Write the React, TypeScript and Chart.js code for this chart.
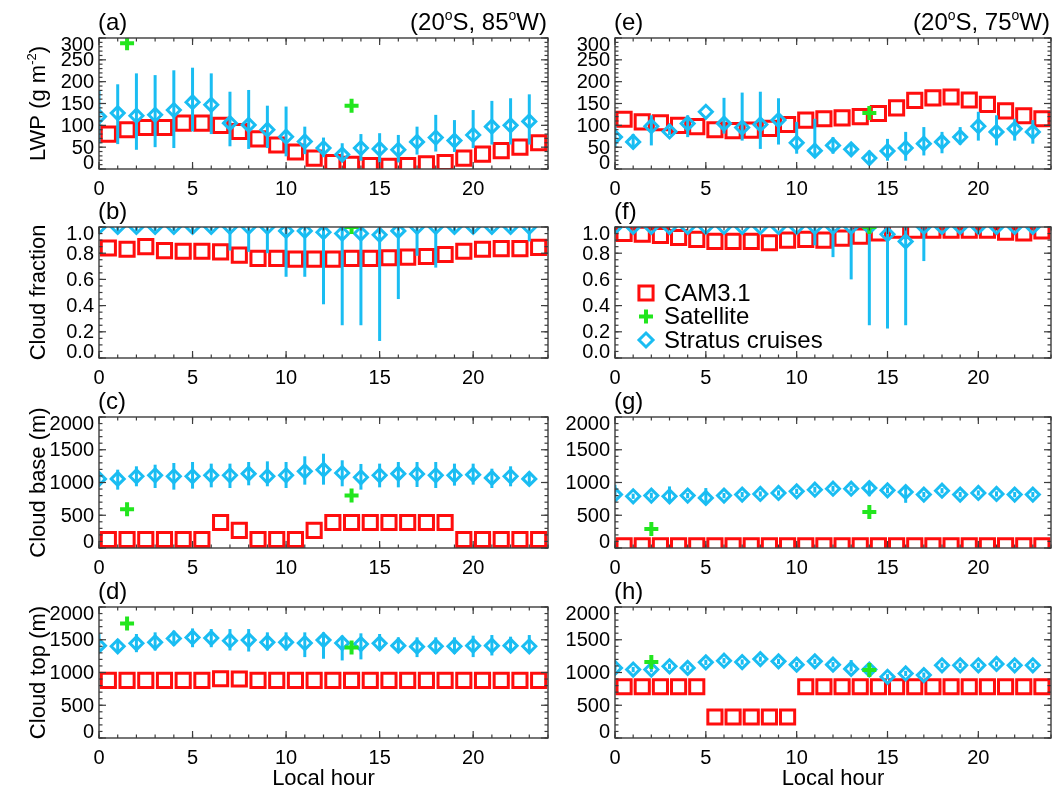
import React, { useEffect, useRef } from 'react';
import { Chart, registerables } from 'chart.js';

Chart.register(...registerables);

// ---------------- page / style constants ----------------
const PAGE_W = 1064;
const PAGE_H = 790;
const FONT = '"Liberation Sans", Arial, Helvetica, sans-serif';
const RED = '#FF0D0D';
const GREEN = '#22E61E';
const BLUE = '#1ABDF2';
const FRAME = '#3c3c3c';

// ---------------- categories & ticks ----------------
const HOURS = [0, 1, 2, 3, 4, 5, 6, 7, 8, 9, 10, 11, 12, 13, 14, 15, 16, 17, 18, 19, 20, 21, 22, 23];
const HALF_HOURS = [0.5, 1.5, 2.5, 3.5, 4.5, 5.5, 6.5, 7.5, 8.5, 9.5, 10.5, 11.5, 12.5, 13.5, 14.5, 15.5, 16.5, 17.5, 18.5, 19.5, 20.5, 21.5, 22.5, 23.5];
const HOUR_TICKS = [0, 5, 10, 15, 20];
const HOUR_TICK_LABELS = ['0', '5', '10', '15', '20'];
const LWP_TICKS = [0, 50, 100, 150, 200, 250, 300];
const LWP_TICK_LABELS = ['0', '50', '100', '150', '200', '250', '300'];
const FRAC_TICKS = [0, 0.2, 0.4, 0.6, 0.8, 1.0];
const FRAC_TICK_LABELS = ['0.0', '0.2', '0.4', '0.6', '0.8', '1.0'];
const HGT_TICKS = [0, 500, 1000, 1500, 2000];
const HGT_TICK_LABELS = ['0', '500', '1000', '1500', '2000'];

// ---------------- (a) LWP, 20S 85W ----------------
const A_CAM = [80, 90, 95, 95, 105, 105, 100, 86, 69, 55, 39, 25, 15, 11, 8, 6, 8, 12, 15, 25, 34, 42, 50, 60];
const A_STR = [120, 128, 122, 124, 135, 153, 147, 105, 101, 90, 74, 63, 48, 33, 48, 46, 44, 62, 72, 65, 78, 97, 100, 109];
const A_STR_LO = [59, 57, 44, 50, 48, 86, 80, 52, 46, 48, 29, 34, 27, 18, 19, 15, 15, 33, 40, 39, 48, 56, 56, 56];
const A_STR_HI = [179, 194, 219, 215, 226, 232, 219, 177, 181, 145, 143, 97, 72, 59, 80, 82, 78, 97, 124, 112, 135, 156, 162, 171];
const A_SAT_X = [1.5, 13.5];
const A_SAT = [288, 145];

// ---------------- (b) cloud fraction, 20S 85W ----------------
const B_CAM = [0.84, 0.83, 0.85, 0.82, 0.815, 0.815, 0.81, 0.785, 0.76, 0.76, 0.755, 0.755, 0.755, 0.76, 0.76, 0.765, 0.77, 0.775, 0.79, 0.815, 0.83, 0.835, 0.835, 0.845];
const B_STR = [1, 1, 1, 1, 1, 1, 1, 1, 1, 1, 0.97, 0.97, 0.96, 0.95, 0.95, 0.94, 0.97, 1, 1, 1, 1, 1, 1, 1];
const B_STR_LO = [1, 0.95, 0.97, 0.97, 0.97, 0.97, 0.97, 0.82, 0.81, 0.8, 0.62, 0.62, 0.41, 0.25, 0.25, 0.13, 0.45, 0.78, 0.69, 0.95, 0.96, 0.97, 0.97, 0.89];
const B_STR_HI = [1, 1, 1, 1, 1, 1, 1, 1, 1, 1, 1, 1, 1, 1, 1, 1, 1, 1, 1, 1, 1, 1, 1, 1];
const B_SAT_X = [13.5];
const B_SAT = [1.0];

// ---------------- (c) cloud base, 20S 85W ----------------
const C_CAM = [130, 130, 130, 130, 130, 130, 390, 270, 130, 130, 130, 270, 390, 390, 390, 390, 390, 390, 390, 130, 130, 130, 130, 130];
const C_STR = [1055, 1055, 1095, 1110, 1095, 1095, 1110, 1110, 1135, 1095, 1110, 1170, 1195, 1145, 1080, 1110, 1135, 1130, 1110, 1110, 1120, 1070, 1095, 1055];
const C_STR_LO = [942, 891, 942, 916, 891, 906, 926, 916, 957, 942, 916, 967, 967, 942, 891, 926, 926, 931, 916, 952, 967, 916, 942, 952];
const C_STR_HI = [1145, 1196, 1247, 1272, 1298, 1313, 1288, 1288, 1313, 1323, 1313, 1400, 1440, 1339, 1283, 1288, 1313, 1313, 1313, 1288, 1288, 1211, 1247, 1160];
const C_SAT_X = [1.5, 13.5];
const C_SAT = [590, 800];

// ---------------- (d) cloud top, 20S 85W ----------------
const D_CAM = [880, 880, 880, 880, 880, 880, 905, 900, 880, 880, 880, 880, 880, 880, 880, 880, 880, 880, 880, 880, 880, 880, 880, 880];
const D_STR = [1410, 1400, 1445, 1460, 1520, 1535, 1525, 1485, 1495, 1460, 1460, 1450, 1495, 1450, 1435, 1445, 1410, 1395, 1400, 1400, 1410, 1410, 1410, 1400];
const D_STR_LO = [1310, 1310, 1310, 1336, 1411, 1386, 1386, 1336, 1320, 1336, 1336, 1235, 1210, 1184, 1200, 1336, 1310, 1235, 1285, 1285, 1235, 1260, 1310, 1310];
const D_STR_HI = [1588, 1512, 1588, 1613, 1638, 1673, 1663, 1663, 1663, 1613, 1613, 1613, 1613, 1562, 1598, 1588, 1537, 1537, 1537, 1537, 1562, 1572, 1547, 1572];
const D_SAT_X = [1.5, 13.5];
const D_SAT = [1750, 1380];

// ---------------- (e) LWP, 20S 75W ----------------
const E_CAM = [114, 108, 106, 100, 97, 90, 88, 89, 93, 102, 112, 115, 117, 120, 127, 140, 157, 163, 165, 158, 148, 133, 122, 115];
const E_STR = [73, 62, 98, 86, 104, 131, 104, 95, 102, 112, 60, 42, 54, 45, 25, 41, 48, 58, 62, 73, 98, 85, 92, 85];
const E_STR_LO = [50, 50, 54, 78, 73, 131, 81, 65, 46, 56, 35, 28, 35, 31, 12, 19, 19, 31, 36, 56, 65, 54, 65, 58];
const E_STR_HI = [98, 80, 123, 95, 123, 131, 163, 175, 177, 162, 108, 115, 73, 58, 42, 69, 85, 96, 85, 96, 131, 123, 115, 112];
const E_SAT_X = [14];
const E_SAT = [128];

// ---------------- (f) cloud fraction, 20S 75W ----------------
const F_CAM = [0.95, 0.945, 0.935, 0.92, 0.905, 0.89, 0.89, 0.89, 0.88, 0.9, 0.905, 0.9, 0.915, 0.93, 0.955, 0.975, 0.975, 0.975, 0.975, 0.975, 0.975, 0.96, 0.955, 0.97];
const F_STR = [1, 1, 1, 1, 1, 1, 1, 1, 1, 1, 1, 1, 1, 1, 1, 0.945, 0.89, 1, 1, 1, 1, 1, 1, 1];
const F_STR_LO = [1, 1, 1, 1, 1, 1, 1, 1, 1, 1, 1, 0.86, 0.77, 0.6, 0.25, 0.225, 0.25, 0.74, 1, 1, 1, 1, 1, 1];
const F_STR_HI = [1, 1, 1, 1, 1, 1, 1, 1, 1, 1, 1, 1, 1, 1, 1, 1, 1, 1, 1, 1, 1, 1, 1, 1];
const F_SAT_X = [14];
const F_SAT = [1.0];

// ---------------- (g) cloud base, 20S 75W ----------------
const G_CAM = [35, 35, 35, 35, 35, 35, 35, 35, 35, 35, 35, 35, 35, 35, 35, 35, 35, 35, 35, 35, 35, 35, 35, 35];
const G_STR = [815, 790, 800, 790, 800, 765, 800, 815, 825, 840, 865, 890, 905, 905, 915, 880, 855, 815, 875, 815, 840, 825, 815, 815];
const G_STR_LO = [765, 750, 755, 710, 760, 690, 760, 775, 785, 800, 825, 845, 860, 860, 790, 835, 690, 775, 835, 775, 800, 785, 775, 775];
const G_STR_HI = [965, 830, 845, 940, 840, 915, 840, 855, 865, 880, 905, 935, 950, 950, 1015, 925, 940, 855, 915, 855, 880, 865, 855, 855];
const G_SAT_X = [2, 14];
const G_SAT = [290, 550];

// ---------------- (h) cloud top, 20S 75W ----------------
const H_CAM = [783, 783, 783, 783, 783, 320, 320, 320, 320, 320, 783, 783, 783, 783, 783, 783, 783, 783, 783, 783, 783, 783, 783, 783];
const H_STR = [1070, 1045, 1045, 1095, 1070, 1155, 1180, 1160, 1205, 1170, 1120, 1170, 1120, 1055, 1045, 935, 985, 960, 1110, 1110, 1110, 1130, 1110, 1110];
const H_STR_LO = [1030, 1005, 1005, 1055, 1030, 1115, 1140, 1120, 1165, 1130, 1080, 1130, 1080, 1015, 1005, 895, 945, 920, 1070, 1070, 1070, 1090, 1070, 1070];
const H_STR_HI = [1110, 1085, 1085, 1135, 1110, 1195, 1220, 1200, 1245, 1210, 1160, 1210, 1160, 1190, 1085, 975, 1025, 1000, 1150, 1150, 1150, 1170, 1150, 1150];
const H_SAT_X = [2, 14];
const H_SAT = [1160, 1040];

// ---------------- layout ----------------
const COLS = [
  { l: 99, r: 548 },
  { l: 615, r: 1062 },
];
const ROW_TOPS = [38, 227, 417, 607];
const ROW_H = 131;

type Rich = { t: string; sup?: boolean };

type PanelSpec = {
  id: string;
  letter: string;
  col: number;
  row: number;
  yMin: number;
  yMax: number;
  yTicks: number[];
  yTickLabels: string[];
  yMinorStep: number;
  cam: number[];
  str: number[];
  strLo: number[];
  strHi: number[];
  satX: number[];
  sat: number[];
  yTitle?: Rich[];
  location?: Rich[];
  xTitle?: string;
  legend?: boolean;
};

const LOC_85: Rich[] = [{ t: '(20' }, { t: 'o', sup: true }, { t: 'S, 85' }, { t: 'o', sup: true }, { t: 'W)' }];
const LOC_75: Rich[] = [{ t: '(20' }, { t: 'o', sup: true }, { t: 'S, 75' }, { t: 'o', sup: true }, { t: 'W)' }];

const LWP_AX = { yMin: 0, yMax: 300, yTicks: LWP_TICKS, yTickLabels: LWP_TICK_LABELS, yMinorStep: 10 };
const FRAC_AX = { yMin: 0, yMax: 1, yTicks: FRAC_TICKS, yTickLabels: FRAC_TICK_LABELS, yMinorStep: 0.05 };
const HGT_AX = { yMin: 0, yMax: 2000, yTicks: HGT_TICKS, yTickLabels: HGT_TICK_LABELS, yMinorStep: 100 };

const PANELS: PanelSpec[] = [
  { id: 'a', letter: '(a)', col: 0, row: 0, ...LWP_AX, cam: A_CAM, str: A_STR, strLo: A_STR_LO, strHi: A_STR_HI, satX: A_SAT_X, sat: A_SAT,
    yTitle: [{ t: 'LWP (g m' }, { t: '-2', sup: true }, { t: ')' }], location: LOC_85 },
  { id: 'b', letter: '(b)', col: 0, row: 1, ...FRAC_AX, cam: B_CAM, str: B_STR, strLo: B_STR_LO, strHi: B_STR_HI, satX: B_SAT_X, sat: B_SAT,
    yTitle: [{ t: 'Cloud fraction' }] },
  { id: 'c', letter: '(c)', col: 0, row: 2, ...HGT_AX, cam: C_CAM, str: C_STR, strLo: C_STR_LO, strHi: C_STR_HI, satX: C_SAT_X, sat: C_SAT,
    yTitle: [{ t: 'Cloud base (m)' }] },
  { id: 'd', letter: '(d)', col: 0, row: 3, ...HGT_AX, cam: D_CAM, str: D_STR, strLo: D_STR_LO, strHi: D_STR_HI, satX: D_SAT_X, sat: D_SAT,
    yTitle: [{ t: 'Cloud top (m)' }], xTitle: 'Local hour' },
  { id: 'e', letter: '(e)', col: 1, row: 0, ...LWP_AX, cam: E_CAM, str: E_STR, strLo: E_STR_LO, strHi: E_STR_HI, satX: E_SAT_X, sat: E_SAT,
    location: LOC_75 },
  { id: 'f', letter: '(f)', col: 1, row: 1, ...FRAC_AX, cam: F_CAM, str: F_STR, strLo: F_STR_LO, strHi: F_STR_HI, satX: F_SAT_X, sat: F_SAT,
    legend: true },
  { id: 'g', letter: '(g)', col: 1, row: 2, ...HGT_AX, cam: G_CAM, str: G_STR, strLo: G_STR_LO, strHi: G_STR_HI, satX: G_SAT_X, sat: G_SAT },
  { id: 'h', letter: '(h)', col: 1, row: 3, ...HGT_AX, cam: H_CAM, str: H_STR, strLo: H_STR_LO, strHi: H_STR_HI, satX: H_SAT_X, sat: H_SAT,
    xTitle: 'Local hour' },
];

// ---------------- drawing helpers ----------------
const TICK_FONT = 20;
const TITLE_FONT = 24;
const AXIS_TITLE_FONT = 22;
const LEGEND_FONT = 24;

function richWidth(ctx: CanvasRenderingContext2D, parts: Rich[], size: number) {
  let w = 0;
  for (const p of parts) {
    ctx.font = `${p.sup ? Math.round(size * 0.6) : size}px ${FONT}`;
    w += ctx.measureText(p.t).width;
  }
  return w;
}

function drawRich(ctx: CanvasRenderingContext2D, parts: Rich[], x: number, y: number, size: number, align: 'left' | 'center' | 'right') {
  const w = richWidth(ctx, parts, size);
  let cx = align === 'left' ? x : align === 'center' ? x - w / 2 : x - w;
  ctx.textAlign = 'left';
  ctx.textBaseline = 'alphabetic';
  for (const p of parts) {
    const s = p.sup ? Math.round(size * 0.6) : size;
    ctx.font = `${s}px ${FONT}`;
    ctx.fillText(p.t, cx, p.sup ? y - size * 0.42 : y);
    cx += ctx.measureText(p.t).width;
  }
}

function drawMarker(ctx: CanvasRenderingContext2D, kind: string, x: number, y: number) {
  ctx.save();
  ctx.beginPath();
  if (kind === 'rect') {
    const s = 10 * Math.SQRT1_2;
    ctx.strokeStyle = RED;
    ctx.lineWidth = 3;
    ctx.rect(x - s, y - s, 2 * s, 2 * s);
  } else if (kind === 'cross') {
    ctx.strokeStyle = GREEN;
    ctx.lineWidth = 4;
    ctx.moveTo(x - 7, y); ctx.lineTo(x + 7, y);
    ctx.moveTo(x, y - 7); ctx.lineTo(x, y + 7);
  } else {
    const r = 7;
    ctx.strokeStyle = BLUE;
    ctx.lineWidth = 3;
    ctx.moveTo(x, y - r); ctx.lineTo(x + r, y); ctx.lineTo(x, y + r); ctx.lineTo(x - r, y); ctx.closePath();
  }
  ctx.stroke();
  ctx.restore();
}

function minorValues(min: number, max: number, step: number) {
  const out: number[] = [];
  const n = Math.round((max - min) / step);
  for (let i = 0; i <= n; i++) out.push(min + i * step);
  return out;
}

const errorBarPlugin = {
  id: 'errBars',
  beforeDatasetDraw(chart: any, args: any) {
    const ds: any = chart.data.datasets[args.index];
    if (!ds.errLo) return;
    const { ctx, chartArea: a } = chart;
    const xs = chart.scales.x;
    const ys = chart.scales.y;
    ctx.save();
    ctx.beginPath();
    ctx.rect(a.left, a.top, a.right - a.left, a.bottom - a.top);
    ctx.clip();
    ctx.strokeStyle = BLUE;
    ctx.lineWidth = 3;
    ds.data.forEach((pt: any, i: number) => {
      const px = xs.getPixelForValue(pt.x);
      ctx.beginPath();
      ctx.moveTo(px, ys.getPixelForValue(ds.errLo[i]));
      ctx.lineTo(px, ys.getPixelForValue(ds.errHi[i]));
      ctx.stroke();
    });
    ctx.restore();
  },
};

function makeFramePlugin(spec: PanelSpec) {
  return {
    id: 'idlFrame',
    afterDraw(chart: any) {
      const { ctx, chartArea: a } = chart;
      const xs = chart.scales.x;
      const ys = chart.scales.y;
      ctx.save();
      // box
      ctx.strokeStyle = FRAME;
      ctx.lineWidth = 1.4;
      ctx.strokeRect(a.left, a.top, a.right - a.left, a.bottom - a.top);
      const line = (x1: number, y1: number, x2: number, y2: number) => {
        ctx.beginPath(); ctx.moveTo(x1, y1); ctx.lineTo(x2, y2); ctx.stroke();
      };
      ctx.lineWidth = 1.2;
      // x ticks (bottom and top, inward)
      for (const v of minorValues(0, 24, 1)) {
        const px = xs.getPixelForValue(v);
        line(px, a.bottom, px, a.bottom - 3.5);
        line(px, a.top, px, a.top + 3.5);
      }
      for (const v of HOUR_TICKS) {
        const px = xs.getPixelForValue(v);
        line(px, a.bottom, px, a.bottom - 7);
        line(px, a.top, px, a.top + 7);
      }
      // y ticks (left and right, inward)
      for (const v of minorValues(spec.yMin, spec.yMax, spec.yMinorStep)) {
        const py = ys.getPixelForValue(v);
        line(a.left, py, a.left + 3.5, py);
        line(a.right, py, a.right - 3.5, py);
      }
      for (const v of spec.yTicks) {
        const py = ys.getPixelForValue(v);
        line(a.left, py, a.left + 7, py);
        line(a.right, py, a.right - 7, py);
      }
      ctx.fillStyle = '#000';
      // x tick labels
      ctx.font = `${TICK_FONT}px ${FONT}`;
      ctx.textAlign = 'center';
      ctx.textBaseline = 'middle';
      HOUR_TICKS.forEach((v, i) => {
        ctx.fillText(HOUR_TICK_LABELS[i], xs.getPixelForValue(v), a.bottom + 20);
      });
      // y tick labels, kept inside the box's vertical extent
      ctx.textAlign = 'right';
      spec.yTicks.forEach((v, i) => {
        let py = ys.getPixelForValue(v);
        py = Math.min(Math.max(py, a.top + 6), a.bottom - 7);
        ctx.fillText(spec.yTickLabels[i], a.left - 5, py + 1);
      });
      // panel letter
      ctx.font = `${TITLE_FONT}px ${FONT}`;
      ctx.textAlign = 'left';
      ctx.textBaseline = 'alphabetic';
      ctx.fillText(spec.letter, a.left - 1, a.top - 8);
      if (spec.location) drawRich(ctx, spec.location, a.right - 1, a.top - 8, TITLE_FONT, 'right');
      // y title
      if (spec.yTitle) {
        ctx.save();
        ctx.translate(45, (a.top + a.bottom) / 2);
        ctx.rotate(-Math.PI / 2);
        drawRich(ctx, spec.yTitle, 0, 0, AXIS_TITLE_FONT, 'center');
        ctx.restore();
      }
      // x title
      if (spec.xTitle) {
        ctx.font = `${AXIS_TITLE_FONT}px ${FONT}`;
        ctx.textAlign = 'center';
        ctx.textBaseline = 'middle';
        ctx.fillText(spec.xTitle, (a.left + a.right) / 2, a.bottom + 41);
      }
      // legend
      if (spec.legend) {
        const items = [
          { kind: 'rect', label: 'CAM3.1' },
          { kind: 'cross', label: 'Satellite' },
          { kind: 'rectRot', label: 'Stratus cruises' },
        ];
        const lx = a.left + 31;
        items.forEach((it, i) => {
          const ly = a.top + 66 + i * 23.5;
          drawMarker(ctx, it.kind, lx, ly);
          ctx.fillStyle = '#000';
          ctx.font = `${LEGEND_FONT}px ${FONT}`;
          ctx.textAlign = 'left';
          ctx.textBaseline = 'middle';
          ctx.fillText(it.label, lx + 18, ly + 1);
        });
      }
      ctx.restore();
    },
  };
}

function pts(xs: number[], ys: number[]) {
  return xs.map((x, i) => ({ x, y: ys[i] }));
}

function buildConfig(spec: PanelSpec): any {
  const col = COLS[spec.col];
  const top = ROW_TOPS[spec.row];
  const bottom = top + ROW_H;
  return {
    type: 'scatter',
    data: {
      datasets: [
        {
          label: 'CAM3.1',
          data: pts(HALF_HOURS, spec.cam),
          pointStyle: 'rect',
          pointRadius: 10,
          pointBorderWidth: 3,
          pointBorderColor: RED,
          pointBackgroundColor: 'rgba(0,0,0,0)',
          borderColor: RED,
          showLine: false,
          clip: 0,
          order: 3,
        },
        {
          label: 'Stratus cruises',
          data: pts(HOURS, spec.str),
          errLo: spec.strLo,
          errHi: spec.strHi,
          pointStyle: 'rectRot',
          pointRadius: 6.5,
          pointBorderWidth: 3,
          pointBorderColor: BLUE,
          pointBackgroundColor: 'rgba(0,0,0,0)',
          borderColor: BLUE,
          showLine: false,
          clip: 0,
          order: 2,
        },
        {
          label: 'Satellite',
          data: pts(spec.satX, spec.sat),
          pointStyle: 'cross',
          pointRadius: 7,
          pointBorderWidth: 4,
          pointBorderColor: GREEN,
          borderColor: GREEN,
          showLine: false,
          clip: 0,
          order: 1,
        },
      ],
    },
    options: {
      animation: false,
      responsive: false,
      maintainAspectRatio: false,
      events: [],
      layout: { padding: { left: col.l, right: PAGE_W - col.r, top, bottom: PAGE_H - bottom } },
      scales: {
        x: { type: 'linear', min: 0, max: 24, display: false },
        y: { type: 'linear', min: spec.yMin, max: spec.yMax, display: false },
      },
      plugins: {
        legend: { display: false },
        tooltip: { enabled: false },
        title: { display: false },
      },
    },
    plugins: [errorBarPlugin, makeFramePlugin(spec)],
  };
}

function PanelChart({ spec }: { spec: PanelSpec }) {
  const ref = useRef<HTMLCanvasElement>(null);
  useEffect(() => {
    if (!ref.current) return;
    const chart = new Chart(ref.current, buildConfig(spec));
    return () => chart.destroy();
  }, [spec]);
  return (
    <canvas
      ref={ref}
      width={PAGE_W}
      height={PAGE_H}
      style={{ position: 'absolute', left: 0, top: 0, width: PAGE_W, height: PAGE_H }}
    />
  );
}

export default function App() {
  return (
    <div style={{ position: 'absolute', left: 0, top: 0, width: PAGE_W, height: PAGE_H, background: '#fff', overflow: 'hidden' }}>
      {PANELS.map((p) => (
        <PanelChart key={p.id} spec={p} />
      ))}
    </div>
  );
}
